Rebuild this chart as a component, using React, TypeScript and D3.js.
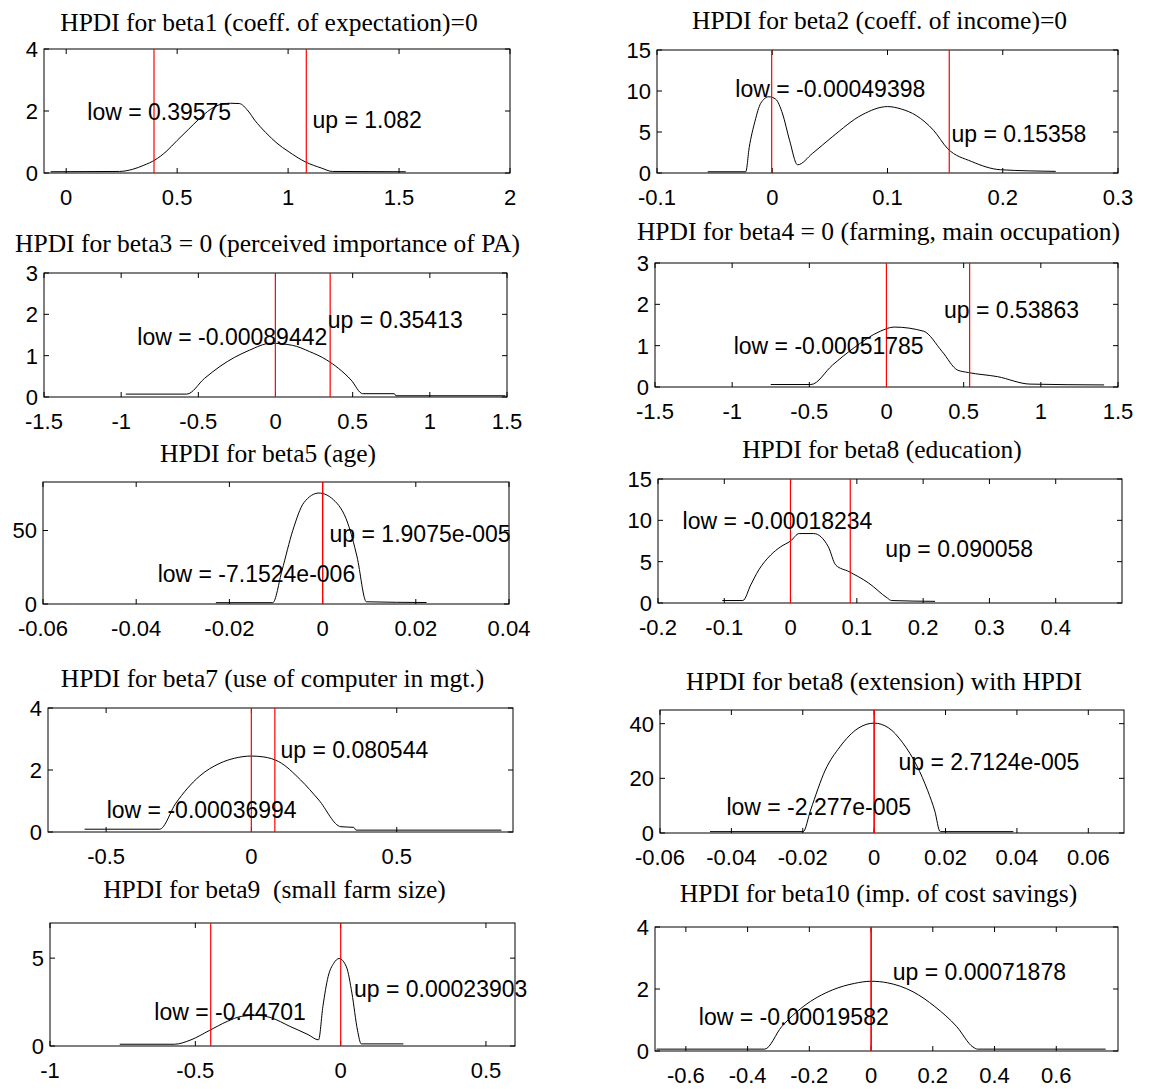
import React from "react";
import * as d3 from "d3";

// titles of the ten posterior density panels (row by row, left then right)
const panelTitles = [
  "HPDI for beta1 (coeff. of expectation)=0",
  "HPDI for beta2 (coeff. of income)=0",
  "HPDI for beta3 = 0 (perceived importance of PA)",
  "HPDI for beta4 = 0 (farming, main occupation)",
  "HPDI for beta5 (age)",
  "HPDI for beta8 (education)",
  "HPDI for beta7 (use of computer in mgt.)",
  "HPDI for beta8 (extension) with HPDI",
  "HPDI for beta9  (small farm size)",
  "HPDI for beta10 (imp. of cost savings)",
];

const xDomains = [
  [-0.1, 2], [-0.1, 0.3], [-1.5, 1.5], [-1.5, 1.5], [-0.06, 0.04],
  [-0.2, 0.5], [-0.7, 0.9], [-0.06, 0.07], [-1, 0.6], [-0.7, 0.8],
];
const yDomains = [
  [0, 4], [0, 15], [0, 3], [0, 3], [0, 83],
  [0, 15], [0, 4], [0, 45], [0, 7], [0, 4],
];

const xTickValues = [
  [0, 0.5, 1, 1.5, 2],
  [-0.1, 0, 0.1, 0.2, 0.3],
  [-1.5, -1, -0.5, 0, 0.5, 1, 1.5],
  [-1.5, -1, -0.5, 0, 0.5, 1, 1.5],
  [-0.06, -0.04, -0.02, 0, 0.02, 0.04],
  [-0.2, -0.1, 0, 0.1, 0.2, 0.3, 0.4],
  [-0.5, 0, 0.5],
  [-0.06, -0.04, -0.02, 0, 0.02, 0.04, 0.06],
  [-1, -0.5, 0, 0.5],
  [-0.6, -0.4, -0.2, 0, 0.2, 0.4, 0.6],
];
const yTickValues = [
  [0, 2, 4], [0, 5, 10, 15], [0, 1, 2, 3], [0, 1, 2, 3], [0, 50],
  [0, 5, 10, 15], [0, 2, 4], [0, 20, 40], [0, 5], [0, 2, 4],
];

const hpdiLow = [0.39575, -0.00049398, -0.00089442, -0.00051785, -7.1524e-6, -0.00018234, -0.00036994, -2.277e-5, -0.44701, -0.00019582];
const hpdiUp = [1.082, 0.15358, 0.35413, 0.53863, 1.9075e-5, 0.090058, 0.080544, 2.7124e-5, 0.00023903, 0.00071878];

const lowLabels = [
  "low = 0.39575", "low = -0.00049398", "low = -0.00089442", "low = -0.00051785", "low = -7.1524e-006",
  "low = -0.00018234", "low = -0.00036994", "low = -2.277e-005", "low = -0.44701", "low = -0.00019582",
];
const upLabels = [
  "up = 1.082", "up = 0.15358", "up = 0.35413", "up = 0.53863", "up = 1.9075e-005",
  "up = 0.090058", "up = 0.080544", "up = 2.7124e-005", "up = 0.00023903", "up = 0.00071878",
];

// posterior densities: [value, density]
const beta1Density = [
  [-0.07, 0.04], [0.24, 0.05], [0.3, 0.12], [0.35, 0.25], [0.4, 0.42], [0.45, 0.69], [0.5, 1.05],
  [0.55, 1.4], [0.6, 1.75], [0.65, 2.05], [0.7, 2.22], [0.74, 2.25], [0.78, 2.24], [0.82, 2.0],
  [0.85, 1.7], [0.9, 1.3], [0.95, 0.96], [1.0, 0.7], [1.08, 0.35], [1.15, 0.16], [1.2, 0.05], [1.53, 0.04],
];
const beta2Density = [
  [-0.056, 0.15], [-0.023, 0.15], [-0.02, 3.1], [-0.015, 6.3], [-0.01, 8.5], [-0.003, 9.3],
  [0.003, 9.0], [0.009, 7.2], [0.015, 4.0], [0.022, 1.0], [0.035, 2.4], [0.052, 4.4], [0.078, 7.1],
  [0.1, 8.1], [0.112, 7.8], [0.125, 7.0], [0.14, 5.2], [0.152, 3.0], [0.173, 1.4], [0.198, 0.4], [0.246, 0.2],
];
const beta3Density = [
  [-0.97, 0.07], [-0.575, 0.07], [-0.46, 0.45], [-0.36, 0.74], [-0.17, 1.13], [-0.03, 1.3], [0.11, 1.25],
  [0.22, 1.1], [0.33, 0.9], [0.49, 0.41], [0.565, 0.08], [0.77, 0.08], [0.78, 0.03], [1.49, 0.03],
];
const beta4Density = [
  [-0.75, 0.06], [-0.49, 0.06], [-0.35, 0.53], [-0.21, 0.95], [-0.04, 1.35], [0.05, 1.45], [0.24, 1.35],
  [0.36, 0.86], [0.46, 0.41], [0.53, 0.35], [0.72, 0.25], [0.93, 0.07], [1.41, 0.05],
];
const beta5Density = [
  [-0.0229, 0.9], [-0.0107, 0.9], [-0.0087, 23], [-0.0064, 50], [-0.004, 69], [-0.0008, 75.5],
  [0.0023, 71], [0.0054, 55], [0.0074, 32], [0.0094, 1.5], [0.0223, 1.0],
];
const beta6Density = [
  [-0.103, 0.3], [-0.072, 0.3], [-0.06, 2.2], [-0.048, 4.0], [-0.03, 5.8], [-0.015, 6.8], [0, 7.5],
  [0.013, 8.4], [0.035, 8.4], [0.057, 6.8], [0.068, 4.6], [0.088, 3.8], [0.118, 2.4], [0.146, 0.6],
  [0.152, 0.3], [0.218, 0.2],
];
const beta7Density = [
  [-0.574, 0.09], [-0.316, 0.09], [-0.26, 0.93], [-0.18, 1.79], [-0.108, 2.22], [-0.058, 2.38],
  [0, 2.45], [0.043, 2.42], [0.094, 2.27], [0.169, 1.68], [0.232, 1.03], [0.308, 0.17], [0.352, 0.15],
  [0.36, 0.06], [0.86, 0.06],
];
const beta8Density = [
  [-0.046, 0.5], [-0.0199, 0.5], [-0.0178, 8.4], [-0.0137, 23], [-0.0096, 31.5], [-0.0045, 38.3],
  [0, 40.2], [0.004, 38.5], [0.008, 33], [0.012, 24.5], [0.015, 15.5], [0.017, 8], [0.0185, 0.5], [0.039, 0.5],
];
const beta9Density = [
  [-0.76, 0.1], [-0.572, 0.1], [-0.515, 0.35], [-0.452, 0.88], [-0.39, 1.4], [-0.34, 1.69],
  [-0.288, 1.75], [-0.238, 1.6], [-0.175, 1.12], [-0.112, 0.65], [-0.076, 0.35], [-0.061, 2.25],
  [-0.043, 3.95], [-0.024, 4.7], [-0.005, 4.98], [0.02, 4.5], [0.039, 3.0], [0.058, 0.9], [0.071, 0.12], [0.216, 0.12],
];
const beta10Density = [
  [-0.695, 0.06], [-0.345, 0.06], [-0.29, 0.78], [-0.22, 1.43], [-0.125, 1.97], [-0.054, 2.18],
  [0, 2.25], [0.053, 2.2], [0.136, 1.91], [0.207, 1.43], [0.278, 0.78], [0.33, 0.13], [0.345, 0.06], [0.76, 0.06],
];

const densities = [
  beta1Density, beta2Density, beta3Density, beta4Density, beta5Density,
  beta6Density, beta7Density, beta8Density, beta9Density, beta10Density,
];

// where each "low = " / "up = " text starts, in data units [x, y]
const lowAnchors = [
  [0.095, 1.98], [-0.032, 10.3], [-0.895, 1.46], [-0.99, 0.99], [-0.0354, 20.9],
  [-0.163, 9.95], [-0.498, 0.71], [-0.0414, 9.6], [-0.641, 1.95], [-0.558, 1.11],
];
const upAnchors = [
  [1.11, 1.71], [0.1555, 4.84], [0.339, 1.86], [0.373, 1.88], [0.0015, 48],
  [0.143, 6.6], [0.1, 2.65], [0.0068, 26.1], [0.046, 3.28], [0.07, 2.56],
];

// pixel boxes of the axes [left, right, top, bottom]
const boxes = [
  [44, 510, 49, 173], [657, 1118, 50, 173],
  [44, 507, 273, 397], [655, 1118, 263, 387],
  [43, 509, 482, 604], [658, 1122, 479, 603],
  [48, 513, 708, 832], [660, 1124, 710, 833],
  [50, 515, 923, 1046], [655, 1118, 927, 1051],
];
const titleGaps = [18, 21, 21, 23, 20, 21, 21, 20, 25, 25];

const sans = "'Liberation Sans', Arial, sans-serif";
const serif = "'Liberation Serif', 'Times New Roman', serif";
const TICK = 5;

function Panel({ i }: { i: number }) {
  const [l, r, t, b] = boxes[i];
  const x = d3.scaleLinear().domain(xDomains[i]).range([l, r]);
  const y = d3.scaleLinear().domain(yDomains[i]).range([b, t]);
  const line = d3
    .line<number[]>()
    .x((d) => x(d[0]))
    .y((d) => y(d[1]))
    .curve(d3.curveMonotoneX);

  return (
    <g>
      <text
        x={(l + r) / 2 - 8}
        y={t - titleGaps[i]}
        textAnchor="middle"
        fontFamily={serif}
        fontSize={25.5}
        style={{ whiteSpace: "pre" }}
      >
        {panelTitles[i]}
      </text>

      <rect x={l} y={t} width={r - l} height={b - t} fill="white" stroke="black" strokeWidth={1} />

      {xTickValues[i].map((v) => (
        <g key={"x" + v}>
          <line x1={x(v)} x2={x(v)} y1={b} y2={b - TICK} stroke="black" />
          <line x1={x(v)} x2={x(v)} y1={t} y2={t + TICK} stroke="black" />
          <text x={x(v)} y={b + 32} textAnchor="middle" fontFamily={sans} fontSize={22}>
            {String(v)}
          </text>
        </g>
      ))}
      {yTickValues[i].map((v) => (
        <g key={"y" + v}>
          <line x1={l} x2={l + TICK} y1={y(v)} y2={y(v)} stroke="black" />
          <line x1={r} x2={r - TICK} y1={y(v)} y2={y(v)} stroke="black" />
          <text x={l - 6} y={y(v)} dy="0.36em" textAnchor="end" fontFamily={sans} fontSize={22}>
            {String(v)}
          </text>
        </g>
      ))}

      <path d={line(densities[i] as number[][]) ?? ""} fill="none" stroke="black" strokeWidth={1} />

      <line x1={x(hpdiLow[i])} x2={x(hpdiLow[i])} y1={t} y2={b} stroke="red" strokeWidth={1.2} />
      <line x1={x(hpdiUp[i])} x2={x(hpdiUp[i])} y1={t} y2={b} stroke="red" strokeWidth={1.2} />

      <text x={x(lowAnchors[i][0])} y={y(lowAnchors[i][1])} dy="0.36em" fontFamily={sans} fontSize={23}>
        {lowLabels[i]}
      </text>
      <text x={x(upAnchors[i][0])} y={y(upAnchors[i][1])} dy="0.36em" fontFamily={sans} fontSize={23}>
        {upLabels[i]}
      </text>
    </g>
  );
}

export default function App() {
  return (
    <div style={{ position: "absolute", left: 0, top: 0 }}>
      <svg width={1153} height={1089} style={{ display: "block", background: "white" }}>
        {panelTitles.map((_, i) => (
          <Panel key={i} i={i} />
        ))}
      </svg>
    </div>
  );
}
